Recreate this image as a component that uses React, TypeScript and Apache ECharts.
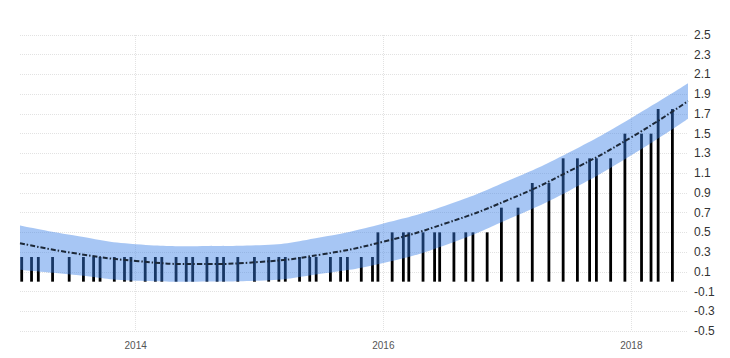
import React, { useEffect, useRef } from "react";
import * as echarts from "echarts";

// Bars: policy rate (upper bound), dates
const barDates = [
  "2013-01-30", "2013-02-28", "2013-03-20", "2013-05-01", "2013-06-19", "2013-07-31", "2013-08-30", "2013-09-18", "2013-10-30", "2013-11-29", "2013-12-18",
  "2014-01-29", "2014-02-28", "2014-03-19", "2014-04-30", "2014-05-30", "2014-06-18", "2014-07-30", "2014-08-29", "2014-09-17", "2014-10-29", "2014-12-17",
  "2015-01-28", "2015-02-27", "2015-03-18", "2015-04-29", "2015-05-29", "2015-06-17", "2015-07-29", "2015-08-28", "2015-09-17", "2015-10-28", "2015-11-30", "2015-12-16",
  "2016-01-27", "2016-02-29", "2016-03-16", "2016-04-27", "2016-05-31", "2016-06-15", "2016-07-27", "2016-08-31", "2016-09-21", "2016-11-02", "2016-12-14",
  "2017-02-01", "2017-03-15", "2017-05-03", "2017-06-14", "2017-07-26", "2017-08-31", "2017-09-20", "2017-11-01", "2017-12-13",
  "2018-01-31", "2018-02-28", "2018-03-21", "2018-05-02",
];
const barValues = [
  0.25, 0.25, 0.25, 0.25, 0.25, 0.25, 0.25, 0.25, 0.25, 0.25, 0.25,
  0.25, 0.25, 0.25, 0.25, 0.25, 0.25, 0.25, 0.25, 0.25, 0.25, 0.25,
  0.25, 0.25, 0.25, 0.25, 0.25, 0.25, 0.25, 0.25, 0.25, 0.25, 0.25, 0.5,
  0.5, 0.5, 0.5, 0.5, 0.5, 0.5, 0.5, 0.5, 0.5, 0.5, 0.75,
  0.75, 1.0, 1.0, 1.25, 1.25, 1.25, 1.25, 1.25, 1.5,
  1.5, 1.5, 1.75, 1.75,
];

// Trend line and its band, read at sample dates
const trendDates = [
  "2013-01-25", "2013-07-01", "2014-01-01", "2014-07-01", "2015-01-01", "2015-07-01",
  "2016-01-01", "2016-07-01", "2017-01-01", "2017-07-01", "2018-01-01", "2018-06-17",
];
const trendValues = [0.39, 0.29, 0.21, 0.178, 0.2, 0.275, 0.405, 0.589, 0.826, 1.118, 1.463, 1.83];
const bandUpper = [0.57, 0.47, 0.38, 0.35, 0.37, 0.45, 0.59, 0.77, 1.02, 1.31, 1.66, 2.01];
const bandLower = [0.12, 0.07, 0.01, -0.01, 0.01, 0.08, 0.19, 0.37, 0.63, 0.92, 1.28, 1.65];

const xMin = "2013-01-25";
const xMax = "2018-06-17";
const yearTicks = ["2014-01-01", "2016-01-01", "2018-01-01"];

function toTs(s: string): number {
  const [y, m, d] = s.split("-").map(Number);
  return new Date(y, m - 1, d).getTime();
}

export default function App() {
  const ref = useRef<HTMLDivElement>(null);
  useEffect(() => {
    if (!ref.current) return;
    const chart = echarts.init(ref.current, null, { renderer: "svg" });
    const tickTs = yearTicks.map(toTs);
    chart.setOption({
      animation: false,
      grid: { left: 20, right: 42, top: 35, bottom: 27 },
      xAxis: {
        type: "value",
        min: toTs(xMin),
        max: toTs(xMax),
        axisLine: { show: false },
        axisTick: { show: false, customValues: tickTs },
        axisLabel: {
          customValues: tickTs,
          formatter: (v: number) => String(new Date(v).getFullYear()),
          color: "#555",
          fontSize: 10,
          fontFamily: "Liberation Sans, Arial, sans-serif",
          margin: 9,
        },
        splitLine: { show: true, lineStyle: { color: "#e2e2e2", type: "dotted", width: 1 } },
      },
      yAxis: {
        type: "value",
        position: "right",
        min: -0.5,
        max: 2.5,
        interval: 0.2,
        axisLine: { show: false },
        axisTick: { show: false },
        axisLabel: {
          formatter: (v: number) => v.toFixed(1),
          color: "#333",
          fontSize: 12,
          fontFamily: "Liberation Sans, Arial, sans-serif",
          margin: 6,
        },
        splitLine: { show: true, lineStyle: { color: "#e2e2e2", type: "dotted", width: 1 } },
      },
      series: [
        {
          type: "bar",
          z: 1,
          barWidth: 2.8,
          itemStyle: { color: "#000" },
          data: barDates.map((d, i) => [toTs(d), barValues[i]]),
        },
        {
          type: "line",
          z: 2,
          stack: "band",
          smooth: true,
          symbol: "none",
          encode: { x: 1, y: 0 },
          lineStyle: { opacity: 0 },
          data: trendDates.map((d, i) => [bandLower[i], toTs(d)]),
        },
        {
          type: "line",
          z: 2,
          stack: "band",
          smooth: true,
          symbol: "none",
          encode: { x: 1, y: 0 },
          lineStyle: { opacity: 0 },
          areaStyle: { color: "rgba(55,125,230,0.44)", opacity: 1 },
          data: trendDates.map((d, i) => [bandUpper[i] - bandLower[i], toTs(d)]),
        },
        {
          type: "line",
          z: 3,
          smooth: true,
          symbol: "none",
          lineStyle: { color: "#1c2838", width: 2, type: [5, 2, 1.5, 2] },
          data: trendDates.map((d, i) => [toTs(d), trendValues[i]]),
        },
      ],
    });
    return () => chart.dispose();
  }, []);
  return (
    <div
      ref={ref}
      style={{ position: "fixed", left: 0, top: 0, width: 730, height: 358, background: "#fff" }}
    />
  );
}
